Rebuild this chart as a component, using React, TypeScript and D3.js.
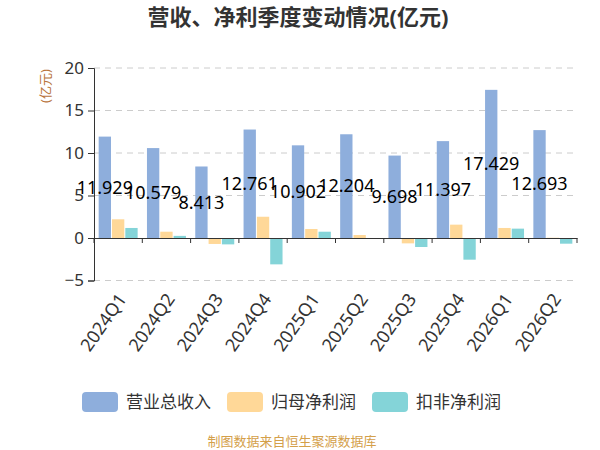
import { useEffect, useRef } from "react";
import * as d3 from "d3";

const quarters = ["2024Q1", "2024Q2", "2024Q3", "2024Q4", "2025Q1", "2025Q2", "2025Q3", "2025Q4", "2026Q1", "2026Q2"];
const revenue = [11.929, 10.579, 8.413, 12.761, 10.902, 12.204, 9.698, 11.397, 17.429, 12.693];
const netProfit = [2.2, 0.74, -0.7, 2.5, 1.06, 0.35, -0.63, 1.57, 1.18, 0.03];
const deductedProfit = [1.18, 0.25, -0.75, -3.1, 0.74, -0.04, -1.06, -2.55, 1.1, -0.67];
const seriesNames = ["营业总收入", "归母净利润", "扣非净利润"];
const seriesColors = ["#8eaedc", "#ffd898", "#84d4d8"];
const yTicks = [-5, 0, 5, 10, 15, 20];

const W = 600;
const H = 450;
const FONT = "'Noto Sans', 'Noto Sans CJK SC', sans-serif";

export default function App() {
  const svgRef = useRef<SVGSVGElement>(null);

  useEffect(() => {
    document.body.style.margin = "0";
    if (!svgRef.current) return;
    const svg = d3.select(svgRef.current);
    svg.selectAll("*").remove();

    const left = 94;
    const right = 577;
    const top = 68;
    const bottom = 280.5;

    const x0 = d3.scaleBand<string>().domain(quarters).range([left, right]).padding(0);
    const x1 = d3
      .scaleBand<string>()
      .domain(seriesNames)
      .range([0, x0.bandwidth()])
      .paddingInner(0.075)
      .paddingOuter(0.35);
    const y = d3.scaleLinear().domain([-5, 20]).range([bottom, top]);

    // title
    svg
      .append("text")
      .attr("x", 298)
      .attr("y", 25)
      .attr("text-anchor", "middle")
      .attr("font-size", 22)
      .attr("font-weight", "bold")
      .attr("fill", "#333")
      .attr("font-family", FONT)
      .text("营收、净利季度变动情况(亿元)");

    // grid
    svg
      .append("g")
      .selectAll("line")
      .data(yTicks.filter((t) => t !== 0))
      .join("line")
      .attr("x1", left)
      .attr("x2", right)
      .attr("y1", (d) => y(d))
      .attr("y2", (d) => y(d))
      .attr("stroke", "#ccc")
      .attr("stroke-dasharray", "6,5");

    // y axis
    const yAxis = svg
      .append("g")
      .attr("transform", `translate(${left},0)`)
      .call(d3.axisLeft(y).tickValues(yTicks).tickSize(6).tickPadding(4));
    yAxis.select(".domain").attr("stroke", "#333");
    yAxis.selectAll(".tick line").attr("stroke", "#333");
    yAxis
      .selectAll("text")
      .attr("font-size", 17)
      .attr("fill", "#333")
      .attr("font-family", FONT);

    svg
      .append("text")
      .attr("transform", `translate(50,86) rotate(-90)`)
      .attr("text-anchor", "middle")
      .attr("font-size", 13)
      .attr("fill", "#b8743c")
      .attr("font-family", FONT)
      .text("(亿元)");

    // bars
    const allSeries = [revenue, netProfit, deductedProfit];
    allSeries.forEach((vals, si) => {
      svg
        .append("g")
        .selectAll("rect")
        .data(vals)
        .join("rect")
        .attr("x", (_, i) => (x0(quarters[i]) ?? 0) + (x1(seriesNames[si]) ?? 0))
        .attr("width", x1.bandwidth())
        .attr("y", (d) => Math.min(y(d), y(0)))
        .attr("height", (d) => Math.abs(y(d) - y(0)))
        .attr("fill", seriesColors[si]);
    });

    // x axis
    const xAxis = svg
      .append("g")
      .attr("transform", `translate(0,${y(0)})`)
      .call(d3.axisBottom(x0).tickSize(0).tickFormat(() => ""));
    xAxis.select(".domain").attr("stroke", "#333");
    svg
      .append("g")
      .selectAll("line")
      .data(d3.range(quarters.length + 1))
      .join("line")
      .attr("x1", (i) => left + i * x0.step())
      .attr("x2", (i) => left + i * x0.step())
      .attr("y1", y(0))
      .attr("y2", y(0) + 5)
      .attr("stroke", "#333");

    // x labels
    svg
      .append("g")
      .selectAll("text")
      .data(quarters)
      .join("text")
      .attr(
        "transform",
        (d) => `translate(${(x0(d) ?? 0) + x0.bandwidth() / 2 + 4},${bottom + 15}) rotate(-55)`
      )
      .attr("text-anchor", "end")
      .attr("dy", "0.35em")
      .attr("font-size", 18)
      .attr("fill", "#333")
      .attr("font-family", FONT)
      .text((d) => d);

    // value labels
    svg
      .append("g")
      .selectAll("text")
      .data(revenue)
      .join("text")
      .attr("x", (_, i) => (x0(quarters[i]) ?? 0) + (x1(seriesNames[0]) ?? 0) + x1.bandwidth() / 2)
      .attr("y", (d) => y(d / 2))
      .attr("dy", "0.35em")
      .attr("text-anchor", "middle")
      .attr("font-size", 18)
      .attr("fill", "#000")
      .attr("font-family", FONT)
      .text((d) => d3.format(".3f")(d));

    // legend
    const legendX = [82, 227, 372];
    const legend = svg
      .append("g")
      .selectAll("g")
      .data(seriesNames)
      .join("g")
      .attr("transform", (_, i) => `translate(${legendX[i]},392)`);
    legend
      .append("rect")
      .attr("width", 36)
      .attr("height", 20)
      .attr("rx", 4)
      .attr("fill", (_, i) => seriesColors[i]);
    legend
      .append("text")
      .attr("x", 44)
      .attr("y", 10)
      .attr("dy", "0.35em")
      .attr("font-size", 17)
      .attr("fill", "#333")
      .attr("font-family", FONT)
      .text((d) => d);

    // source
    svg
      .append("text")
      .attr("x", 292)
      .attr("y", 446)
      .attr("text-anchor", "middle")
      .attr("font-size", 13)
      .attr("fill", "#d4a04a")
      .attr("font-family", FONT)
      .text("制图数据来自恒生聚源数据库");
  }, []);

  return <svg ref={svgRef} width={W} height={H} style={{ display: "block", background: "#fff" }} />;
}
